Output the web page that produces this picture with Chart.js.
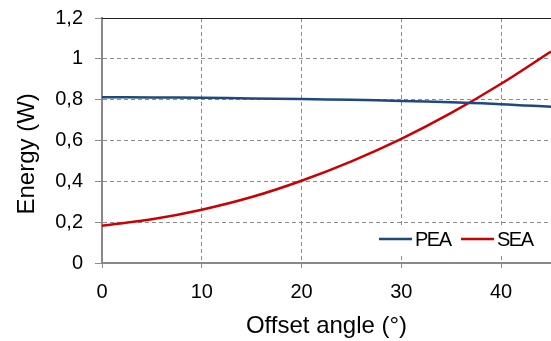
<!DOCTYPE html>
<html>
<head>
<meta charset="utf-8">
<script src="https://cdn.jsdelivr.net/npm/chart.js@4.4.1/dist/chart.umd.min.js"></script>
<style>
  html, body { margin: 0; padding: 0; background: #fff; }
  #wrap { width: 551px; height: 341px; position: relative; }
</style>
</head>
<body>
<div id="wrap"><canvas id="energyChart"></canvas></div>
<script>
// Offset angle (deg) and energy (W)
const angles = [0, 5, 10, 15, 20, 25, 30, 35, 40, 45];
const peaValues = [0.812, 0.811, 0.809, 0.806, 0.803, 0.799, 0.794, 0.787, 0.778, 0.765];
const seaValues = [0.183, 0.214, 0.261, 0.323, 0.403, 0.498, 0.608, 0.735, 0.878, 1.036];
const seriesLabels = ["PEA", "SEA"];
const seriesColors = ["#1F497D", "#CC0000"];
const xTicks = [0, 10, 20, 30, 40];

const FONT = "'Liberation Sans', Arial, sans-serif";
const GRID = "#8c8c8c";

function toPoints(values) {
  return angles.map((a, i) => ({ x: a, y: values[i] }));
}

// top frame line + legend inside the plot, bottom right, with white box
const frameAndLegend = {
  id: "frameAndLegend",
  afterDraw(chart) {
    const ctx = chart.ctx;
    const area = chart.chartArea;
    ctx.save();
    ctx.strokeStyle = "#222";
    ctx.lineWidth = 1;
    ctx.beginPath();
    ctx.moveTo(area.left, area.top + 0.5);
    ctx.lineTo(area.right, area.top + 0.5);
    ctx.stroke();

    const y = area.bottom - 24;
    ctx.fillStyle = "#fff";
    ctx.fillRect(area.right - 179, y - 13, 168, 29);
    ctx.font = "20px " + FONT;
    ctx.letterSpacing = "-1.5px";
    ctx.textBaseline = "middle";
    let x = area.right - 172;
    chart.data.datasets.forEach((ds) => {
      ctx.strokeStyle = ds.borderColor;
      ctx.lineWidth = 2.5;
      ctx.beginPath();
      ctx.moveTo(x, y);
      ctx.lineTo(x + 33, y);
      ctx.stroke();
      ctx.fillStyle = "#000";
      ctx.fillText(ds.label, x + 36, y + 1);
      x += 82;
    });
    ctx.restore();
  },
};

new Chart(document.getElementById("energyChart"), {
  type: "line",
  data: {
    datasets: [
      {
        label: seriesLabels[0],
        data: toPoints(peaValues),
        borderColor: seriesColors[0],
        borderWidth: 2.5,
        pointRadius: 0,
        tension: 0.4,
      },
      {
        label: seriesLabels[1],
        data: toPoints(seaValues),
        borderColor: seriesColors[1],
        borderWidth: 2.5,
        pointRadius: 0,
        tension: 0.4,
      },
    ],
  },
  options: {
    responsive: true,
    maintainAspectRatio: false,
    animation: false,
    layout: { padding: { top: 18, right: 0, left: 0, bottom: 0 } },
    plugins: {
      legend: { display: false },
      tooltip: { enabled: false },
    },
    scales: {
      x: {
        type: "linear",
        position: "bottom",
        min: 0,
        max: 45,
        afterBuildTicks: (scale) => {
          scale.ticks = xTicks.map((v) => ({ value: v }));
        },
        afterFit: (scale) => {
          scale.height = 78;
        },
        ticks: {
          color: "#000",
          font: { family: FONT, size: 20 },
          padding: 10,
          maxRotation: 0,
        },
        grid: {
          color: (c) => (c.tick && c.tick.value === 0 ? "rgba(0,0,0,0)" : GRID),
          lineWidth: 1,
          tickLength: 7,
          tickColor: GRID,
          tickBorderDash: [4, 3],
        },
        border: { color: "#888", width: 2, dash: [4, 3] },
        title: {
          display: true,
          text: "Offset angle (°)",
          color: "#000",
          font: { family: FONT, size: 24 },
          padding: { top: 0, bottom: 0 },
        },
      },
      y: {
        min: 0,
        max: 1.2,
        afterFit: (scale) => {
          scale.width = 102;
          scale.paddingTop = 0;
        },
        ticks: {
          stepSize: 0.2,
          color: "#000",
          font: { family: FONT, size: 20 },
          padding: 12,
          callback: (v) => String(Number(v.toFixed(1))).replace(".", ","),
        },
        grid: {
          color: (c) => (c.tick && c.tick.value > 1.19 ? "rgba(0,0,0,0)" : GRID),
          lineWidth: 1,
          tickLength: 7,
          tickColor: GRID,
        },
        border: { color: "#888", width: 2, dash: [4, 3] },
        title: {
          display: true,
          text: "Energy (W)    ",
          color: "#000",
          font: { family: FONT, size: 24 },
          padding: { top: 13, bottom: 0 },
        },
      },
    },
  },
  plugins: [frameAndLegend],
});
</script>
</body>
</html>
